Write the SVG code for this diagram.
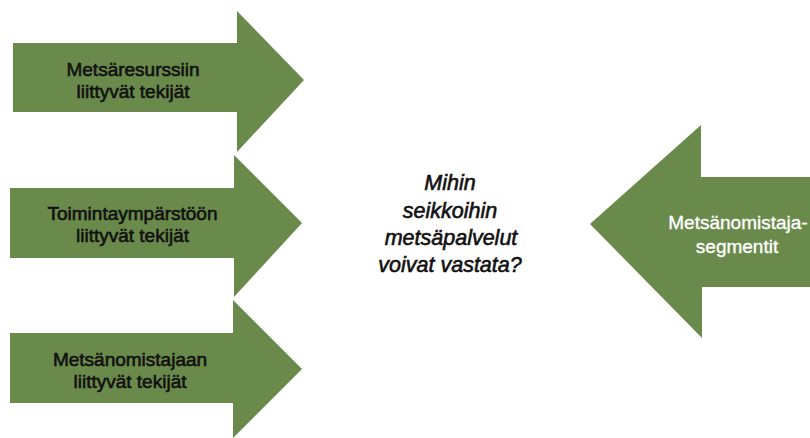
<svg xmlns="http://www.w3.org/2000/svg" width="810" height="438" viewBox="0 0 810 438">
<style>
.arrow{fill:#6a8a4b;}
.lbl{font-family:"Liberation Sans",Arial,sans-serif;font-size:19px;text-anchor:middle;fill:#111;stroke:#111;stroke-width:0.6px;}
.wlbl{font-family:"Liberation Sans",Arial,sans-serif;font-size:19px;text-anchor:middle;fill:#fff;stroke:#fff;stroke-width:0.35px;}
.q{font-family:"Liberation Sans",Arial,sans-serif;font-size:21.5px;font-style:italic;text-anchor:middle;fill:#111;stroke:#111;stroke-width:0.6px;}
</style>
<rect width="810" height="438" fill="#fff"/>
<g id="arrow-metsaresurssi">
<polygon class="arrow" points="13,43 237,43 237,11 304,80 237,152 237,112 13,112"/>
<text class="lbl" x="133" y="76">Metsäresurssiin</text>
<text class="lbl" x="133" y="98">liittyvät tekijät</text>
</g>
<g id="arrow-toimintaymparisto">
<polygon class="arrow" points="10,188 234,188 234,155 302,223 234,297 234,258 10,258"/>
<text class="lbl" x="132.5" y="219.5">Toimintaympärstöön</text>
<text class="lbl" x="132.5" y="241.5">liittyvät tekijät</text>
</g>
<g id="arrow-metsanomistaja">
<polygon class="arrow" points="10,333 233,333 233,300 302,369 233,438 233,403 10,403"/>
<text class="lbl" x="130" y="366">Metsänomistajaan</text>
<text class="lbl" x="130" y="388">liittyvät tekijät</text>
</g>
<g id="arrow-segmentit">
<polygon class="arrow" points="810,177 701,177 701,125 590,224 702,338 702,287 810,287"/>
<text class="wlbl" x="738" y="229">Metsänomistaja-</text>
<text class="wlbl" x="737" y="253">segmentit</text>
</g>
<g id="question">
<text class="q" x="450" y="190">Mihin</text>
<text class="q" x="450" y="218">seikkoihin</text>
<text class="q" x="451" y="245">metsäpalvelut</text>
<text class="q" x="450" y="272">voivat vastata?</text>
</g>
<g id="connectors"></g>
</svg>
